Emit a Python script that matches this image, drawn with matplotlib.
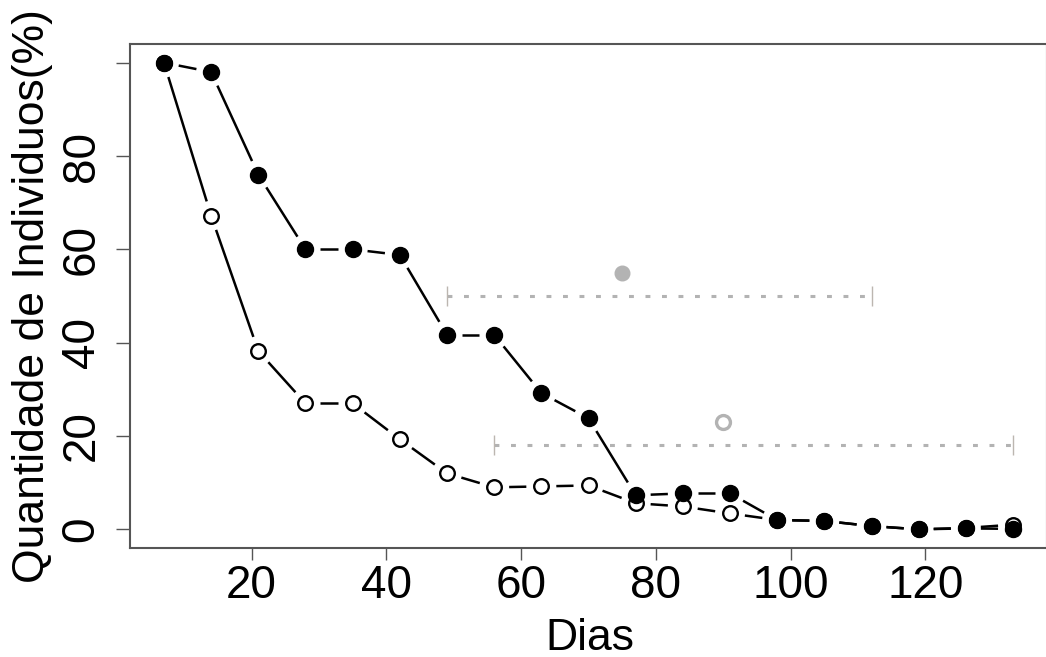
import numpy as np
import matplotlib
matplotlib.use('Agg')
import matplotlib.pyplot as plt

plt.rcParams['font.family'] = ['Liberation Sans', 'DejaVu Sans']

# dados
dias = [7, 14, 21, 28, 35, 42, 49, 56, 63, 70, 77, 84, 91, 98, 105, 112, 119, 126, 133]
cheio = [100, 98, 76, 60, 60, 58.8, 41.7, 41.7, 29.2, 23.8, 7.3, 7.7, 7.7, 2.0, 1.8, 0.7, 0, 0.2, 0.1]
vazio = [100, 67.2, 38.2, 27, 27, 19.3, 12, 9, 9.2, 9.4, 5.6, 4.9, 3.4, 2.0, 1.8, 0.7, 0, 0.3, 1.0]

# resumo em cinza: ponto medio e intervalo
resumo_x = [75, 90]
resumo_y = [55, 23]
interv_ini = [49, 56]
interv_fim = [112, 133]
interv_y = [50, 18]

xticks = [20, 40, 60, 80, 100, 120]
yticks = [0, 20, 40, 60, 80, 100]
ytick_labels = ['0', '20', '40', '60', '80', '']

W, H = 1046, 657
fig = plt.figure(figsize=(W / 100, H / 100), dpi=100)
ax = fig.add_axes([130 / W, 1 - 548 / H, (1047 - 130) / W, (548 - 44) / H])
ax.set_xlim(1.96, 138.04)
ax.set_ylim(-4, 104)

cinza = '#b3b3b3'


def linha_b(x, y, gap=15, **kw):
    # linhas estilo R type="b": segmentos com folga em volta dos pontos
    pts = ax.transData.transform(np.column_stack([x, y]))
    inv = ax.transData.inverted()
    for p0, p1 in zip(pts[:-1], pts[1:]):
        d = p1 - p0
        n = np.hypot(*d)
        if n <= 2 * gap:
            continue
        u = d / n
        a = inv.transform(p0 + u * gap)
        b = inv.transform(p1 - u * gap)
        ax.plot([a[0], b[0]], [a[1], b[1]], **kw)


linha_b(dias, vazio, color='black', lw=1.8, zorder=2, solid_capstyle='butt')
ax.plot(dias, vazio, 'o', ms=10.5, mfc='white', mec='black', mew=1.7, zorder=3)
linha_b(dias, cheio, color='black', lw=1.8, zorder=4, solid_capstyle='butt')
ax.plot(dias, cheio, 'o', ms=11.5, mfc='black', mec='black', zorder=5)

# intervalos pontilhados
for x0, x1, yy in zip(interv_ini, interv_fim, interv_y):
    ax.plot([x0, x1], [yy, yy], color=cinza, lw=2.2, linestyle=(0, (1.6, 3.8)), zorder=2)
    ax.plot([x0, x1], [yy, yy], '|', color='#bcb6b0', ms=14, mew=1.0, zorder=2)

ax.plot(resumo_x[:1], resumo_y[:1], 'o', ms=10.5, mfc=cinza, mec=cinza, zorder=3)
ax.plot(resumo_x[1:], resumo_y[1:], 'o', ms=10, mfc='white', mec=cinza, mew=2.4, zorder=3)

for s in ax.spines.values():
    s.set_color('#555555')
    s.set_linewidth(1.5)

ax.set_xticks(xticks)
ax.set_yticks(yticks)
ax.set_yticklabels(ytick_labels)
ax.tick_params(axis='x', length=8.6, width=1, color='#555555', labelsize=33, pad=3)
ax.tick_params(axis='y', length=10, width=1, color='#555555', labelsize=33, pad=9)
for t in ax.get_yticklabels():
    t.set_rotation(90)
    t.set_va('center')

fig.text(590 / W, 1 - 650 / H, 'Dias', fontsize=32, ha='center', va='baseline')
fig.text(33 / W, 1 - 296 / H, 'Quantidade de Individuos(%)', fontsize=32,
         rotation=90, ha='center', va='center')

fig.savefig('out.png', dpi=100)
